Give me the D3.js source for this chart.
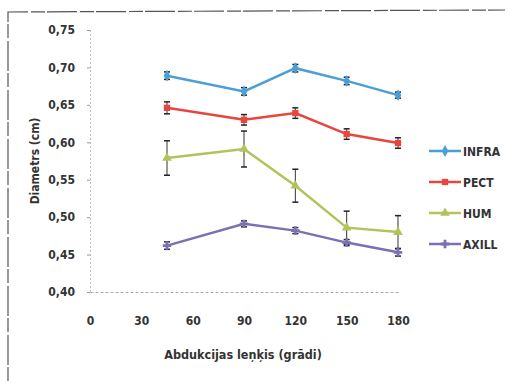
<!DOCTYPE html>
<html>
<head>
<meta charset="utf-8">
<script src="https://cdn.jsdelivr.net/npm/d3@7"></script>
<style>
  body { margin: 0; background: #fff; }
  text { font-family: "DejaVu Sans Condensed", "Liberation Sans Narrow", sans-serif; font-weight: bold; fill: #333; }
</style>
</head>
<body>
<div id="chart"></div>
<script>
// data
const angles = [45, 90, 120, 150, 180];
const xTicks = [0, 30, 60, 90, 120, 150, 180];
const yTicks = [0.40, 0.45, 0.50, 0.55, 0.60, 0.65, 0.70, 0.75];
const seriesNames = ["INFRA", "PECT", "HUM", "AXILL"];
const infra = [0.689, 0.668, 0.699, 0.682, 0.663];
const pect = [0.646, 0.630, 0.639, 0.611, 0.599];
const hum = [0.579, 0.591, 0.542, 0.486, 0.480];
const axill = [0.462, 0.491, 0.482, 0.466, 0.453];
const infraErr = [0.005, 0.005, 0.005, 0.005, 0.004];
const pectErr = [0.008, 0.007, 0.007, 0.007, 0.007];
const humErr = [0.023, 0.024, 0.022, 0.022, 0.022];
const axillErr = [0.005, 0.004, 0.004, 0.004, 0.005];

const colors = ["#4b9fd6", "#e8453f", "#b4c25a", "#7a70b2"];
const symbols = [d3.symbolDiamond, d3.symbolSquare, d3.symbolTriangle, d3.symbolCross];

const series = seriesNames.map((name, i) => ({
    name,
    color: colors[i],
    symbol: symbols[i],
    values: [infra, pect, hum, axill][i],
    errs: [infraErr, pectErr, humErr, axillErr][i]
}));

const width = 508, height = 381;
const svg = d3.select("#chart").append("svg")
    .attr("width", width)
    .attr("height", height);

// scanned page frame
svg.append("path")
    .attr("d", "M8,381 L8,12 L505,10")
    .attr("fill", "none")
    .attr("stroke", "#555")
    .attr("stroke-width", 1.2)
    .attr("stroke-dasharray", "14,2,30,3");

const x = d3.scaleLinear().domain([0, 180]).range([90, 398]);
const y = d3.scaleLinear().domain([0.40, 0.75]).range([292, 30]);

const fmt = d => d3.format(".2f")(d).replace(".", ",");

// y axis
const yAxis = svg.append("g")
    .attr("transform", `translate(${x(0)},0)`)
    .call(d3.axisLeft(y).tickValues(yTicks).tickSize(3).tickPadding(12).tickFormat(fmt));
yAxis.select(".domain").attr("stroke", "#bbb").attr("stroke-dasharray", "2,2");
yAxis.selectAll(".tick line").attr("stroke", "#999");
yAxis.selectAll("text").attr("font-size", 12).style("font-family", null);

// x axis
const xAxis = svg.append("g")
    .attr("transform", `translate(0,${y(0.40)})`)
    .call(d3.axisBottom(x).tickValues(xTicks).tickSize(0).tickPadding(24));
xAxis.select(".domain").attr("stroke", "#aaa").attr("stroke-dasharray", "3,2");
xAxis.selectAll("text").attr("font-size", 12).style("font-family", null);

// axis titles
svg.append("text")
    .attr("transform", `translate(39,${y(0.575)}) rotate(-90)`)
    .attr("text-anchor", "middle")
    .attr("font-size", 12)
    .text("Diametrs (cm)");

svg.append("text")
    .attr("x", 243)
    .attr("y", 359)
    .attr("text-anchor", "middle")
    .attr("font-size", 12.5)
    .attr("font-weight", "normal")
    .text("Abdukcijas leņķis (grādi)");

const line = d3.line()
    .x((d, i) => x(angles[i]))
    .y(d => y(d));

series.forEach(s => {
    const g = svg.append("g");
    g.append("path")
        .datum(s.values)
        .attr("d", line)
        .attr("fill", "none")
        .attr("stroke", s.color)
        .attr("stroke-width", 2.5);

    // error bars
    s.values.forEach((v, i) => {
        const cx = x(angles[i]);
        const e = s.errs[i];
        g.append("line")
            .attr("x1", cx).attr("x2", cx)
            .attr("y1", y(v + e)).attr("y2", y(v - e))
            .attr("stroke", "#333").attr("stroke-width", 1);
        [v + e, v - e].forEach(b => {
            g.append("line")
                .attr("x1", cx - 3).attr("x2", cx + 3)
                .attr("y1", y(b)).attr("y2", y(b))
                .attr("stroke", "#222").attr("stroke-width", 1.5);
        });
    });

    g.selectAll(".mk")
        .data(s.values)
        .enter()
            .append("path")
            .attr("transform", (d, i) => `translate(${x(angles[i])},${y(d)})`)
            .attr("d", d3.symbol().type(s.symbol).size(40))
            .attr("fill", s.color);
});

// legend
const legend = svg.append("g");
series.forEach((s, i) => {
    const ly = 151 + i * 31;
    legend.append("line")
        .attr("x1", 429).attr("x2", 461)
        .attr("y1", ly).attr("y2", ly)
        .attr("stroke", s.color)
        .attr("stroke-width", 2.5);
    legend.append("path")
        .attr("transform", `translate(445,${ly})`)
        .attr("d", d3.symbol().type(s.symbol).size(40))
        .attr("fill", s.color);
    legend.append("text")
        .attr("x", 463)
        .attr("y", ly + 4.5)
        .attr("font-size", 12)
        .text(s.name);
});
</script>
</body>
</html>
